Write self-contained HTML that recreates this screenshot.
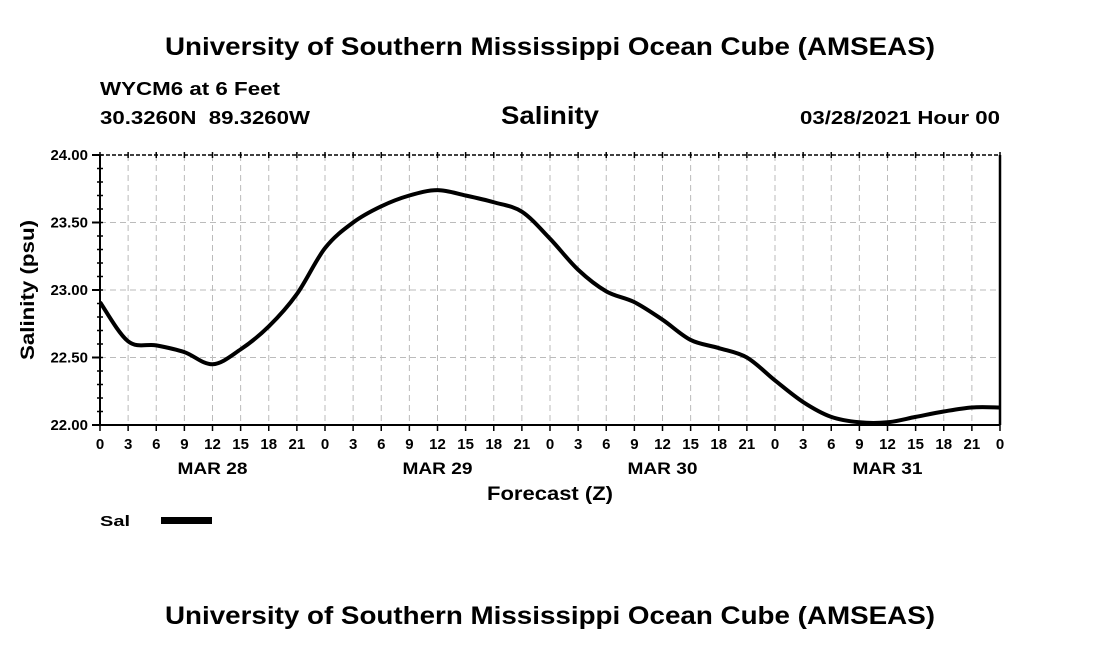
<!DOCTYPE html>
<html><head><meta charset="utf-8">
<style>
html,body{margin:0;padding:0;background:#fff;width:1100px;height:650px;overflow:hidden}
svg{display:block;font-family:"Liberation Sans",Arial,sans-serif;font-weight:bold}
</style></head>
<body>
<svg id="chart" width="1100" height="650">
<text x="165" y="55" textLength="770" lengthAdjust="spacingAndGlyphs" font-size="25">University of Southern Mississippi Ocean Cube (AMSEAS)</text>
<text x="100" y="95" textLength="180" lengthAdjust="spacingAndGlyphs" font-size="18">WYCM6 at 6 Feet</text>
<text x="100" y="124" textLength="210" lengthAdjust="spacingAndGlyphs" font-size="18" xml:space="preserve">30.3260N  89.3260W</text>
<text x="501" y="124" textLength="98" lengthAdjust="spacingAndGlyphs" font-size="25">Salinity</text>
<text x="800" y="124" textLength="200" lengthAdjust="spacingAndGlyphs" font-size="18">03/28/2021 Hour 00</text>
<g id="grid"></g>
<g id="axes"></g>
<path id="line" fill="none" stroke="#000" stroke-width="4" stroke-linejoin="round"/>
<text transform="translate(34,220) rotate(-90)" x="-140" y="0" textLength="140" lengthAdjust="spacingAndGlyphs" font-size="19">Salinity (psu)</text>
<text x="487" y="500" textLength="126" lengthAdjust="spacingAndGlyphs" font-size="19">Forecast (Z)</text>
<text x="100" y="526" textLength="30" lengthAdjust="spacingAndGlyphs" font-size="15">Sal</text>
<rect x="161" y="517" width="51" height="7" fill="#000"/>
<text x="165" y="624" textLength="770" lengthAdjust="spacingAndGlyphs" font-size="25">University of Southern Mississippi Ocean Cube (AMSEAS)</text>
</svg>
<script>
const hours = [0,3,6,9,12,15,18,21,24,27,30,33,36,39,42,45,48,51,54,57,60,63,66,69,72,75,78,81,84,87,90,93,96];
const salinity = [22.91,22.62,22.59,22.54,22.45,22.56,22.73,22.97,23.31,23.50,23.62,23.70,23.74,23.70,23.65,23.58,23.38,23.15,22.99,22.91,22.78,22.63,22.57,22.50,22.33,22.17,22.06,22.02,22.02,22.06,22.10,22.13,22.13];
const yTicks = [22.00,22.50,23.00,23.50,24.00];
const xTickLabels = ["0","3","6","9","12","15","18","21"];
const dayLabels = ["MAR 28","MAR 29","MAR 30","MAR 31"];

const X0=100,X1=1000,Y0=425,Y1=155;
const xs=h=>X0+(h/96)*(X1-X0);
const ys=v=>Y0-(v-22)/2*(Y0-Y1);
const NS="http://www.w3.org/2000/svg";
const grid=document.getElementById('grid'),axes=document.getElementById('axes');
function mk(tag,attrs,parent){const e=document.createElementNS(NS,tag);for(const k in attrs)e.setAttribute(k,attrs[k]);parent.appendChild(e);return e;}

for(let h=0;h<=96;h+=3){
  const x=xs(h);
  if(h>0&&h<96){const g=mk('line',{x1:x,y1:Y1,x2:x,y2:Y0,stroke:'#bbb','stroke-dasharray':'6,4'},grid);
  
  }
  mk('line',{x1:x,y1:Y0,x2:x,y2:Y0+6,stroke:'#000','stroke-width':1.5},axes);
  mk('line',{x1:x,y1:Y1-3,x2:x,y2:Y1+3,stroke:'#000','stroke-width':1.5},axes);
  const t=mk('text',{x:x,y:Y0+24,'text-anchor':'middle','font-size':15},axes);
  t.textContent=h===96?"0":xTickLabels[(h%24)/3];
  
  
}
dayLabels.forEach((d,i)=>{
  const t=mk('text',{x:xs(i*24+12)-35,y:Y0+49,'font-size':17,textLength:70,lengthAdjust:'spacingAndGlyphs'},axes);
  t.textContent=d;
  
  
});
for(let v=22;v<=24.001;v+=0.1){
  const y=ys(v);
  mk('line',{x1:X0-3,y1:y,x2:X0+3,y2:y,stroke:'#000','stroke-width':1.5},axes);
}
yTicks.forEach(v=>{
  const y=ys(v);
  if(v>22&&v<24){const g=mk('line',{x1:X0,y1:y,x2:X1,y2:y,stroke:'#bbb','stroke-dasharray':'6,4'},grid);
  
  }
  mk('line',{x1:X0-8,y1:y,x2:X0,y2:y,stroke:'#000','stroke-width':2},axes);
  const t=mk('text',{x:X0-12,y:y+5,'text-anchor':'end','font-size':15},axes);
  t.textContent=v.toFixed(2);
  
  
});
mk('line',{x1:X0,y1:Y1,x2:X0,y2:Y0,stroke:'#000','stroke-width':2},axes);
mk('line',{x1:X1,y1:Y1,x2:X1,y2:Y0,stroke:'#000','stroke-width':2.5},axes);
mk('line',{x1:X0,y1:Y0,x2:X1,y2:Y0,stroke:'#000','stroke-width':2},axes);
mk('line',{x1:X0,y1:Y1,x2:X1,y2:Y1,stroke:'#000','stroke-width':1.5,'stroke-dasharray':'4,2'},axes);

const P=hours.map((h,i)=>[xs(h),ys(salinity[i])]);
let d=`M${P[0][0]},${P[0][1]}`;
for(let i=0;i<P.length-1;i++){
  const p0=P[Math.max(i-1,0)],p1=P[i],p2=P[i+1],p3=P[Math.min(i+2,P.length-1)];
  const c1=[p1[0]+(p2[0]-p0[0])/6,p1[1]+(p2[1]-p0[1])/6];
  const c2=[p2[0]-(p3[0]-p1[0])/6,p2[1]-(p3[1]-p1[1])/6];
  d+=` C${c1[0]},${c1[1]} ${c2[0]},${c2[1]} ${p2[0]},${p2[1]}`;
}
document.getElementById('line').setAttribute('d',d);
</script>
</body></html>
